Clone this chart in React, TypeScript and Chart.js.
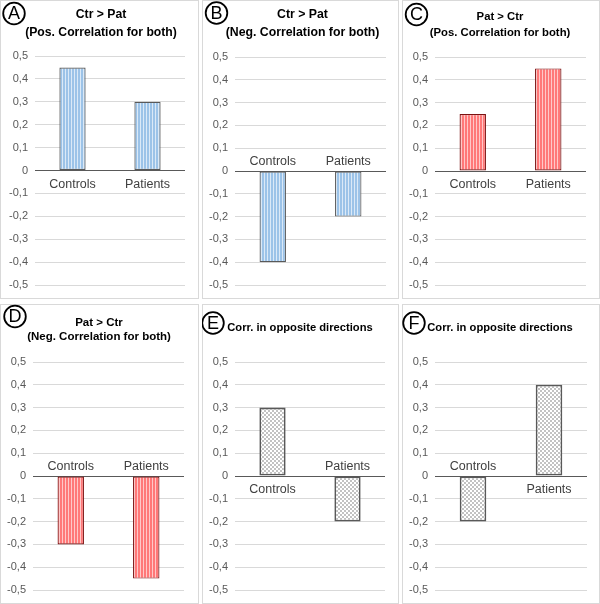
import React, { useEffect, useRef } from "react";
import { Chart, registerables } from "chart.js";

Chart.register(...registerables);

// ---- data ----
const categories = ["Controls", "Patients"];
const valuesA = [0.45, 0.3];
const valuesB = [-0.4, -0.2];
const valuesC = [0.25, 0.45];
const valuesD = [-0.3, -0.45];
const valuesE = [0.3, -0.2];
const valuesF = [-0.2, 0.4];
const yMin = -0.5;
const yMax = 0.5;
const yStep = 0.1;

type PatternKind = "blue" | "red" | "dots";

interface PanelDef {
  letter: string;
  title: string[];
  values: number[];
  pattern: PatternKind;
  x: number; y: number; w: number; h: number;
  pad: { left: number; right: number; top: number; bottom: number };
  titleX: number;
  titleY: number[];
  titleSize: number;
  circle: { x: number; y: number };
}

const panels: PanelDef[] = [
  { letter: "A", title: ["Ctr > Pat", "(Pos. Correlation for both)"], values: valuesA, pattern: "blue",
    x: 0, y: 0, w: 199, h: 299, pad: { left: 5, right: 14, top: 56, bottom: 14 },
    titleX: 101, titleY: [15, 33], titleSize: 12.2, circle: { x: 14, y: 13.5 } },
  { letter: "B", title: ["Ctr > Pat", "(Neg. Correlation for both)"], values: valuesB, pattern: "blue",
    x: 202, y: 0, w: 197, h: 299, pad: { left: 3, right: 13, top: 57, bottom: 14 },
    titleX: 100.5, titleY: [15, 33], titleSize: 12.3, circle: { x: 14.5, y: 13 } },
  { letter: "C", title: ["Pat > Ctr", "(Pos. Correlation for both)"], values: valuesC, pattern: "red",
    x: 402, y: 0, w: 198, h: 299, pad: { left: 3, right: 14, top: 57, bottom: 14 },
    titleX: 98, titleY: [17, 33], titleSize: 11.3, circle: { x: 14.5, y: 14.5 } },
  { letter: "D", title: ["Pat > Ctr", "(Neg. Correlation for both)"], values: valuesD, pattern: "red",
    x: 0, y: 304, w: 199, h: 300, pad: { left: 3, right: 15, top: 58, bottom: 14 },
    titleX: 99, titleY: [19, 33], titleSize: 11.5, circle: { x: 15, y: 12.5 } },
  { letter: "E", title: ["Corr. in opposite directions"], values: valuesE, pattern: "dots",
    x: 202, y: 304, w: 197, h: 300, pad: { left: 3, right: 14, top: 58, bottom: 14 },
    titleX: 98, titleY: [24], titleSize: 11.2, circle: { x: 11, y: 19 } },
  { letter: "F", title: ["Corr. in opposite directions"], values: valuesF, pattern: "dots",
    x: 402, y: 304, w: 198, h: 300, pad: { left: 3, right: 13, top: 58, bottom: 14 },
    titleX: 98, titleY: [24], titleSize: 11.2, circle: { x: 12, y: 19 } },
];

const FONT = "'Liberation Sans', Arial, sans-serif";

function makePattern(kind: PatternKind): CanvasPattern | string {
  const c = document.createElement("canvas");
  const ctx = c.getContext("2d");
  if (!ctx) return "#ccc";
  if (kind === "dots") {
    c.width = 4; c.height = 4;
    ctx.fillStyle = "#ffffff";
    ctx.fillRect(0, 0, 4, 4);
    ctx.fillStyle = "#c2c2c2";
    ctx.fillRect(0, 0, 2, 2);
    ctx.fillRect(2, 2, 2, 2);
  } else {
    c.width = 3; c.height = 4;
    ctx.fillStyle = kind === "blue" ? "#9cc3e8" : "#ff7878";
    ctx.fillRect(0, 0, 3, 4);
    ctx.fillStyle = kind === "blue" ? "#dbe9f7" : "#ffc8c8";
    ctx.fillRect(2, 0, 1, 4);
  }
  return ctx.createPattern(c, "repeat") || "#ccc";
}

function fmt(v: number): string {
  if (Math.abs(v) < 1e-9) return "0";
  return v.toFixed(1).replace(".", ",");
}

function Panel({ def }: { def: PanelDef }) {
  const ref = useRef<HTMLCanvasElement>(null);
  useEffect(() => {
    const canvas = ref.current;
    if (!canvas) return;
    const borderColor = def.pattern === "red" ? "#7a1212" : "#595959";
    const decor = {
      id: "decor" + def.letter,
      beforeDraw(chart: any) {
        const ctx = chart.ctx;
        ctx.save();
        ctx.fillStyle = "#ffffff";
        ctx.fillRect(0, 0, def.w, def.h);
        ctx.strokeStyle = "#d9d9d9";
        ctx.lineWidth = 1;
        ctx.strokeRect(0.5, 0.5, def.w - 1, def.h - 1);
        ctx.restore();
      },
      afterDatasetsDraw(chart: any) {
        const ctx = chart.ctx;
        const xs = chart.scales.x;
        const ys = chart.scales.y;
        const y0 = ys.getPixelForValue(0);
        ctx.save();
        ctx.font = `12.5px ${FONT}`;
        ctx.fillStyle = "#404040";
        ctx.textAlign = "center";
        ctx.textBaseline = "alphabetic";
        categories.forEach((cat, i) => {
          const x = xs.getPixelForValue(i);
          const v = def.values[i];
          ctx.fillText(cat, x, v >= 0 ? y0 + 17 : y0 - 6);
        });
        ctx.restore();
      },
      afterDraw(chart: any) {
        const ctx = chart.ctx;
        ctx.save();
        ctx.fillStyle = "#000000";
        ctx.font = `bold ${def.titleSize}px ${FONT}`;
        ctx.textAlign = "center";
        ctx.textBaseline = "middle";
        def.title.forEach((t, i) => ctx.fillText(t, def.titleX, def.titleY[i]));
        ctx.beginPath();
        ctx.arc(def.circle.x, def.circle.y, 10.8, 0, Math.PI * 2);
        ctx.lineWidth = 1.8;
        ctx.strokeStyle = "#000000";
        ctx.stroke();
        ctx.font = `18px ${FONT}`;
        ctx.fillText(def.letter, def.circle.x, def.circle.y + 1);
        ctx.restore();
      },
    };
    const chart = new Chart(canvas, {
      type: "bar",
      data: {
        labels: categories,
        datasets: [
          {
            data: def.values,
            backgroundColor: makePattern(def.pattern) as any,
            borderColor,
            borderWidth: def.pattern === "dots" ? 1.8 : 1.2,
            borderSkipped: false,
            barPercentage: 0.35,
            categoryPercentage: 1,
          },
        ],
      },
      options: {
        responsive: false,
        animation: false,
        devicePixelRatio: 1,
        layout: { padding: def.pad },
        plugins: { legend: { display: false }, tooltip: { enabled: false }, title: { display: false } },
        scales: {
          x: { display: false },
          y: {
            min: yMin,
            max: yMax,
            afterFit(scale: any) { scale.width = 30; },
            border: { display: false },
            grid: {
              drawTicks: false,
              lineWidth: 1,
              color: (c: any) => (c.tick && Math.abs(c.tick.value) < 1e-9 ? "#595959" : "#d9d9d9"),
            },
            ticks: {
              stepSize: yStep,
              padding: 7,
              color: "#595959",
              font: { family: FONT, size: 11 },
              callback: (v: any) => fmt(Number(v)),
            },
          },
        },
      },
      plugins: [decor],
    });
    return () => chart.destroy();
  }, [def]);
  return (
    <canvas
      ref={ref}
      width={def.w}
      height={def.h}
      style={{ position: "absolute", left: def.x, top: def.y, width: def.w, height: def.h }}
    />
  );
}

export default function App() {
  return (
    <div style={{ position: "absolute", left: 0, top: 0, width: 600, height: 604, background: "#fff" }}>
      {panels.map((p) => (
        <Panel key={p.letter} def={p} />
      ))}
    </div>
  );
}
